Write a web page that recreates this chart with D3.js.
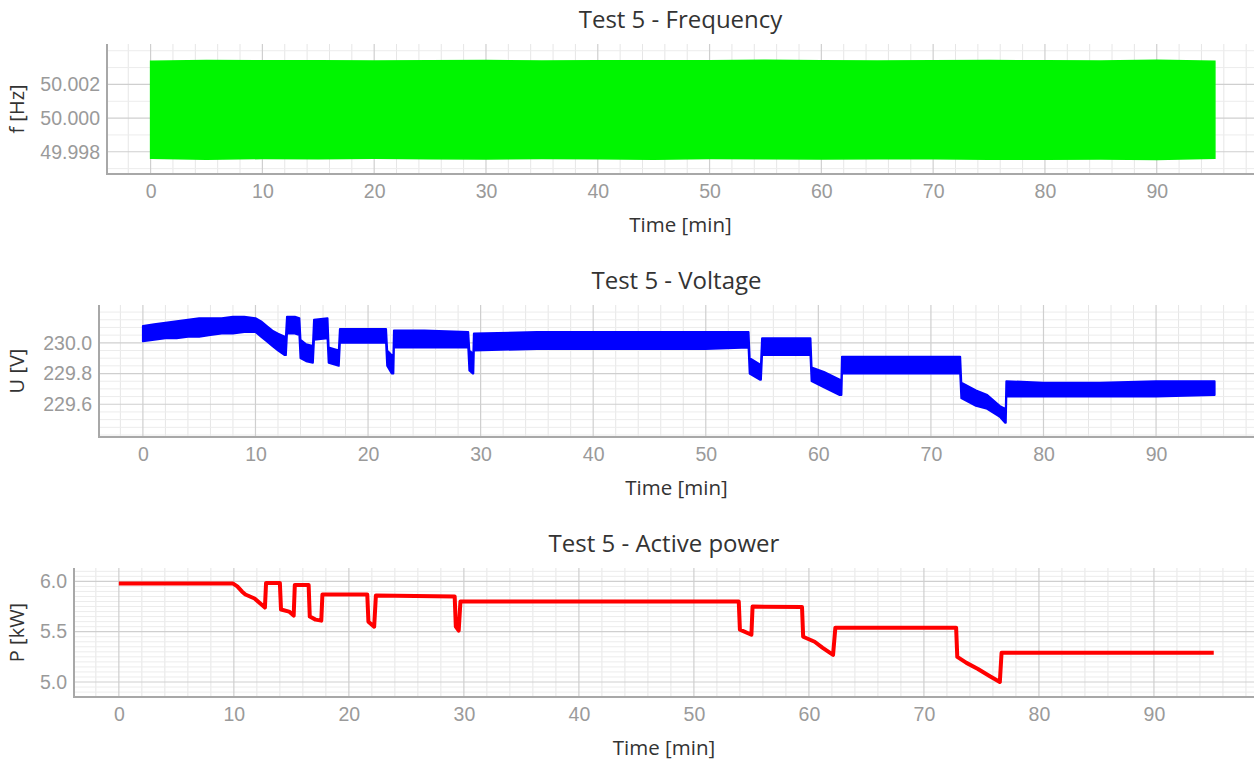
<!DOCTYPE html>
<html>
<head>
<meta charset="utf-8">
<script src="https://cdn.jsdelivr.net/npm/d3@7"></script>
<style>
  html, body { margin: 0; padding: 0; background: #fff; }
  svg { display: block; font-family: "Open Sans", "Noto Sans", sans-serif; }
</style>
</head>
<body>
<svg id="chart" width="1258" height="764"></svg>
<script>
// ---------------- DATA ----------------
const timeTicks = [0, 10, 20, 30, 40, 50, 60, 70, 80, 90];

// Frequency: envelope of the dense oscillation (upper / lower edge of the green band)
const freqTime = [0, 5, 10, 15, 20, 25, 30, 35, 40, 45, 50, 55, 60, 65, 70, 75, 80, 85, 90, 95.2];
const freqHigh = [50.00338, 50.00342, 50.00340, 50.00341, 50.00339, 50.00340, 50.00342, 50.00339, 50.00341, 50.00340,
                  50.00341, 50.00343, 50.00340, 50.00339, 50.00341, 50.00342, 50.00340, 50.00339, 50.00343, 50.00338];
const freqLow  = [49.99762, 49.99755, 49.99760, 49.99758, 49.99761, 49.99759, 49.99757, 49.99760, 49.99758, 49.99756,
                  49.99760, 49.99758, 49.99757, 49.99759, 49.99758, 49.99756, 49.99755, 49.99757, 49.99754, 49.99762];
const freqTicks = [49.998, 50.000, 50.002];

// Voltage: band (lower / upper edge)
const voltTime = [0, 1, 2, 3, 4, 5, 6, 7, 8, 9, 10, 10.5, 11, 11.5, 12, 12.6, 12.7, 12.8, 13.5, 13.9,
                  14.0, 14.5, 15.1, 15.2, 16.4, 16.5, 17.4, 17.5, 19.5, 21.6, 21.7, 22.1, 22.25, 22.3, 25, 28.9,
                  29.0, 29.3, 29.35, 29.4, 35, 40, 45, 50, 53.8, 53.9, 54.8, 54.9, 55.0, 57, 59.3, 59.4, 60.5,
                  61.9, 62.05, 62.1, 65, 68, 72.6, 72.7, 74, 75, 76.1, 76.6, 76.65, 76.7, 80, 85, 90, 95.2];
const voltLow  = [230.01, 230.02, 230.03, 230.03, 230.04, 230.04, 230.05, 230.06, 230.06, 230.07, 230.07, 230.04, 230.01, 229.98, 229.95, 229.92, 229.92, 230.06, 230.06, 230.05,
                  229.90, 229.88, 229.87, 230.02, 230.03, 229.87, 229.85, 230.00, 230.00, 230.00, 229.85, 229.80, 229.80, 229.97, 229.97, 229.97,
                  229.82, 229.80, 229.80, 229.95, 229.96, 229.96, 229.96, 229.96, 229.97, 229.80, 229.76, 229.76, 229.92, 229.92, 229.92, 229.75, 229.71,
                  229.66, 229.66, 229.80, 229.80, 229.80, 229.80, 229.64, 229.59, 229.57, 229.52, 229.48, 229.48, 229.65, 229.65, 229.65, 229.65, 229.66];
const voltHigh = [230.11, 230.12, 230.13, 230.14, 230.15, 230.16, 230.16, 230.16, 230.17, 230.17, 230.16, 230.14, 230.11, 230.08, 230.06, 230.04, 230.04, 230.17, 230.17, 230.16,
                  230.02, 229.99, 229.98, 230.15, 230.16, 229.97, 229.95, 230.09, 230.09, 230.09, 229.95, 229.92, 229.92, 230.08, 230.08, 230.07,
                  229.95, 229.93, 229.93, 230.06, 230.07, 230.07, 230.07, 230.07, 230.07, 229.90, 229.86, 229.86, 230.03, 230.03, 230.03, 229.84, 229.81,
                  229.76, 229.76, 229.91, 229.91, 229.91, 229.91, 229.74, 229.69, 229.66, 229.59, 229.57, 229.57, 229.75, 229.74, 229.74, 229.75, 229.75];
const voltTicks = [229.6, 229.8, 230.0];

// Active power
const powerTime  = [0, 9.9, 10.3, 10.7, 11, 11.8, 12.3, 12.7, 12.8, 14.0, 14.1, 14.8, 15.2, 15.3, 16.5, 16.6, 17.1, 17.6, 17.7,
                    21.6, 21.7, 22.2, 22.35, 29.2, 29.3, 29.55, 29.7, 53.9, 54.0, 55.0, 55.1, 59.4, 59.5, 60.5, 61.2, 62.1,
                    62.3, 72.8, 72.9, 73.7, 74.7, 75.7, 76.6, 76.75, 95.2];
const powerValue = [5.98, 5.98, 5.95, 5.90, 5.87, 5.83, 5.78, 5.74, 5.985, 5.985, 5.72, 5.70, 5.66, 5.965, 5.965, 5.65, 5.62, 5.61, 5.87,
                    5.87, 5.60, 5.55, 5.86, 5.85, 5.55, 5.51, 5.80, 5.80, 5.52, 5.47, 5.75, 5.745, 5.45, 5.40, 5.34, 5.27,
                    5.54, 5.54, 5.25, 5.19, 5.13, 5.06, 5.00, 5.29, 5.29];
const powerTicks = [5.0, 5.5, 6.0];

// ---------------- LAYOUT ----------------
const svg = d3.select("#chart");
const xDomain = [-3.9, 98.7];

const panels = [
  { title: "Test 5 - Frequency", ylabel: "f [Hz]", left: 107, right: 1254, top: 44, bottom: 174,
    yDomain: [49.99668, 50.0044], ticks: freqTicks, minorStep: 0.001, fmt: ".3f" },
  { title: "Test 5 - Voltage", ylabel: "U [V]", left: 99, right: 1254, top: 305, bottom: 437,
    yDomain: [229.387, 230.246], ticks: voltTicks, minorStep: 0.05, fmt: ".1f" },
  { title: "Test 5 - Active power", ylabel: "P [kW]", left: 74, right: 1254, top: 568, bottom: 697,
    yDomain: [4.851, 6.133], ticks: powerTicks, minorStep: 0.05, fmt: ".1f" }
];

panels.forEach((p, i) => {
  const x = d3.scaleLinear().domain(xDomain).range([p.left, p.right]);
  const y = d3.scaleLinear().domain(p.yDomain).range([p.bottom, p.top]);
  const g = svg.append("g");

  // minor vertical grid (every 2 min)
  const minorX = d3.range(-2, 99, 2).filter(v => v % 10 !== 0);
  g.selectAll(".mvx").data(minorX).enter().append("line")
    .attr("x1", d => x(d)).attr("x2", d => x(d)).attr("y1", p.top).attr("y2", p.bottom)
    .attr("stroke", "#e6e6e6").attr("stroke-width", 1);
  // minor horizontal grid
  const nMin = Math.ceil(p.yDomain[0] / p.minorStep), nMax = Math.floor(p.yDomain[1] / p.minorStep);
  const minorY = d3.range(nMin, nMax + 1).map(k => k * p.minorStep)
    .filter(v => !p.ticks.some(t => Math.abs(t - v) < p.minorStep / 10));
  g.selectAll(".mhy").data(minorY).enter().append("line")
    .attr("x1", p.left).attr("x2", p.right).attr("y1", d => y(d)).attr("y2", d => y(d))
    .attr("stroke", "#ececec").attr("stroke-width", 1);
  // major grid
  g.selectAll(".gx").data(timeTicks).enter().append("line")
    .attr("x1", d => x(d)).attr("x2", d => x(d)).attr("y1", p.top).attr("y2", p.bottom)
    .attr("stroke", "#cfcfcf").attr("stroke-width", 1.2);
  g.selectAll(".gy").data(p.ticks).enter().append("line")
    .attr("x1", p.left).attr("x2", p.right).attr("y1", d => y(d)).attr("y2", d => y(d))
    .attr("stroke", "#cfcfcf").attr("stroke-width", 1.2);

  // data
  if (i === 0) {
    const area = d3.area().x((d, k) => x(freqTime[k])).y0((d, k) => y(freqLow[k])).y1((d, k) => y(freqHigh[k]));
    g.append("path").datum(freqTime).attr("d", area).attr("fill", "#00f500")
      .attr("stroke", "#00f500").attr("stroke-width", 1.5);
  } else if (i === 1) {
    const area = d3.area().x((d, k) => x(voltTime[k])).y0((d, k) => y(voltLow[k])).y1((d, k) => y(voltHigh[k]));
    g.append("path").datum(voltTime).attr("d", area).attr("fill", "#0000ff")
      .attr("stroke", "#0000ff").attr("stroke-width", 2).attr("stroke-linejoin", "round");
  } else {
    const line = d3.line().x((d, k) => x(powerTime[k])).y((d, k) => y(powerValue[k]));
    g.append("path").datum(powerTime).attr("d", line).attr("fill", "none")
      .attr("stroke", "#ff0000").attr("stroke-width", 4).attr("stroke-linejoin", "round");
  }

  // axis lines
  g.append("line").attr("x1", p.left).attr("x2", p.left).attr("y1", p.top).attr("y2", p.bottom)
    .attr("stroke", "#a8a8a8").attr("stroke-width", 2);
  g.append("line").attr("x1", p.left - 1).attr("x2", p.right).attr("y1", p.bottom).attr("y2", p.bottom)
    .attr("stroke", "#a8a8a8").attr("stroke-width", 2);

  // axes (labels)
  const xAxis = d3.axisBottom(x).tickValues(timeTicks).tickSize(0).tickPadding(9).tickFormat(d3.format("d"));
  const ax = g.append("g").attr("transform", `translate(0,${p.bottom + 1})`).call(xAxis);
  ax.select(".domain").remove();
  ax.selectAll("text").attr("fill", "#9a9a9a").style("font-size", "19.5px");

  const yAxis = d3.axisLeft(y).tickValues(p.ticks).tickSize(0).tickPadding(7).tickFormat(d3.format(p.fmt));
  const ay = g.append("g").attr("transform", `translate(${p.left},0)`).call(yAxis);
  ay.select(".domain").remove();
  ay.selectAll("text").attr("fill", "#9a9a9a").style("font-size", "19.5px");

  // titles
  g.append("text").attr("x", (p.left + p.right) / 2).attr("y", p.top - 22)
    .attr("text-anchor", "middle").attr("dominant-baseline", "middle")
    .attr("fill", "#333").style("font-size", "24px").text(p.title);
  g.append("text").attr("x", (p.left + p.right) / 2).attr("y", p.bottom + 53)
    .attr("text-anchor", "middle").attr("dominant-baseline", "middle")
    .attr("fill", "#333").style("font-size", "20.5px").text("Time [min]");
  g.append("text").attr("transform", `translate(19,${(p.top + p.bottom) / 2}) rotate(-90)`)
    .attr("text-anchor", "middle").attr("dominant-baseline", "middle")
    .attr("fill", "#333").style("font-size", "20px").text(p.ylabel);
});
</script>
</body>
</html>
